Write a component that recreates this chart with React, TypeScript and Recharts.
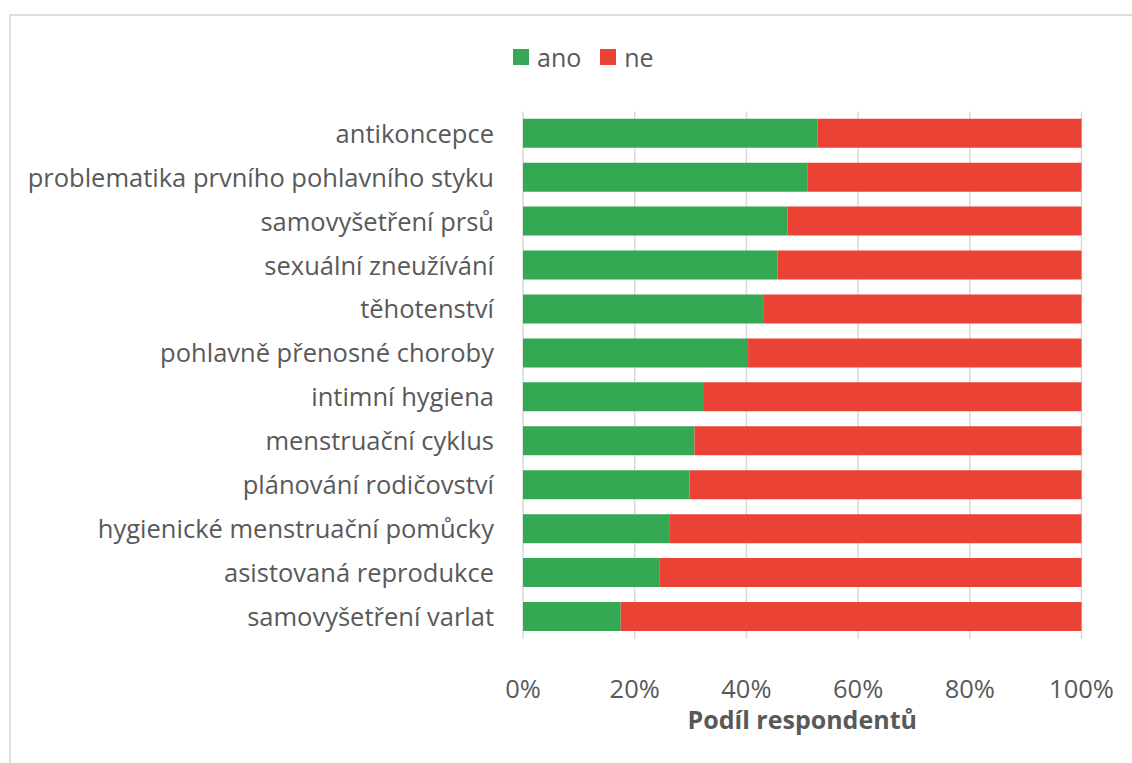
import React from 'react';
import { BarChart, Bar, XAxis, YAxis, CartesianGrid } from 'recharts';

const categories = [
  'antikoncepce',
  'problematika prvního pohlavního styku',
  'samovyšetření prsů',
  'sexuální zneužívání',
  'těhotenství',
  'pohlavně přenosné choroby',
  'intimní hygiena',
  'menstruační cyklus',
  'plánování rodičovství',
  'hygienické menstruační pomůcky',
  'asistovaná reprodukce',
  'samovyšetření varlat',
];
const anoValues = [52.7, 50.9, 47.4, 45.6, 43.0, 40.3, 32.4, 30.7, 29.8, 26.3, 24.5, 17.5];
const neValues = [47.3, 49.1, 52.6, 54.4, 57.0, 59.7, 67.6, 69.3, 70.2, 73.7, 75.5, 82.5];
const xTicks = [0, 20, 40, 60, 80, 100];
const seriesNames = ['ano', 'ne'];
const seriesColors = ['#34A853', '#EA4335'];
const axisTitle = 'Podíl respondentů';

const data = categories.map((name, i) => ({ name, ano: anoValues[i], ne: neValues[i] }));

const FONT = '"Open Sans", sans-serif';
const TEXT = '#595959';

export default function App() {
  return (
    <div style={{ position: 'absolute', left: 0, top: 0, width: 1132, height: 763, overflow: 'hidden', background: '#fff' }}>
      <div style={{ position: 'absolute', left: 9, top: 14, width: 1200, height: 800, border: '2px solid #dedede', boxSizing: 'border-box' }} />
      <div style={{ position: 'absolute', left: 0, top: 0 }}>
        <BarChart
          width={1132}
          height={763}
          data={data}
          layout="vertical"
          margin={{ top: 111.7, right: 50.5, bottom: 52, left: 10 }}
          barSize={29}
        >
          <CartesianGrid horizontal={false} stroke="#d9d9d9" strokeWidth={1.5} />
          <XAxis
            type="number"
            domain={[0, 100]}
            ticks={xTicks}
            tickFormatter={(v: number) => `${v}%`}
            axisLine={false}
            tickLine={false}
            tickSize={0}
            tickMargin={41}
            height={72}
            tick={{ fill: TEXT, fontSize: 25.5, fontFamily: FONT }}
            label={{ value: axisTitle, position: 'bottom', offset: 0, fill: TEXT, fontSize: 25, fontWeight: 'bold', fontFamily: FONT }}
          />
          <YAxis
            type="category"
            dataKey="name"
            width={513}
            axisLine={false}
            tickLine={false}
            tickSize={0}
            tickMargin={29}
            interval={0}
            tick={{ fill: TEXT, fontSize: 25.5, fontFamily: FONT }}
          />
          <Bar dataKey="ano" name="ano" stackId="a" fill={seriesColors[0]} isAnimationActive={false} />
          <Bar dataKey="ne" name="ne" stackId="a" fill={seriesColors[1]} isAnimationActive={false} />
        </BarChart>
      </div>
      <div style={{ position: 'absolute', left: 513, top: 41, display: 'flex', alignItems: 'center', fontFamily: FONT, fontSize: 25, color: TEXT, lineHeight: '32px' }}>
        {seriesNames.map((n, i) => (
          <div key={n} style={{ display: 'flex', alignItems: 'center', marginRight: 19 }}>
            <span style={{ display: 'inline-block', width: 16, height: 16, background: seriesColors[i], marginRight: 8 }} />
            <span>{n}</span>
          </div>
        ))}
      </div>
    </div>
  );
}
